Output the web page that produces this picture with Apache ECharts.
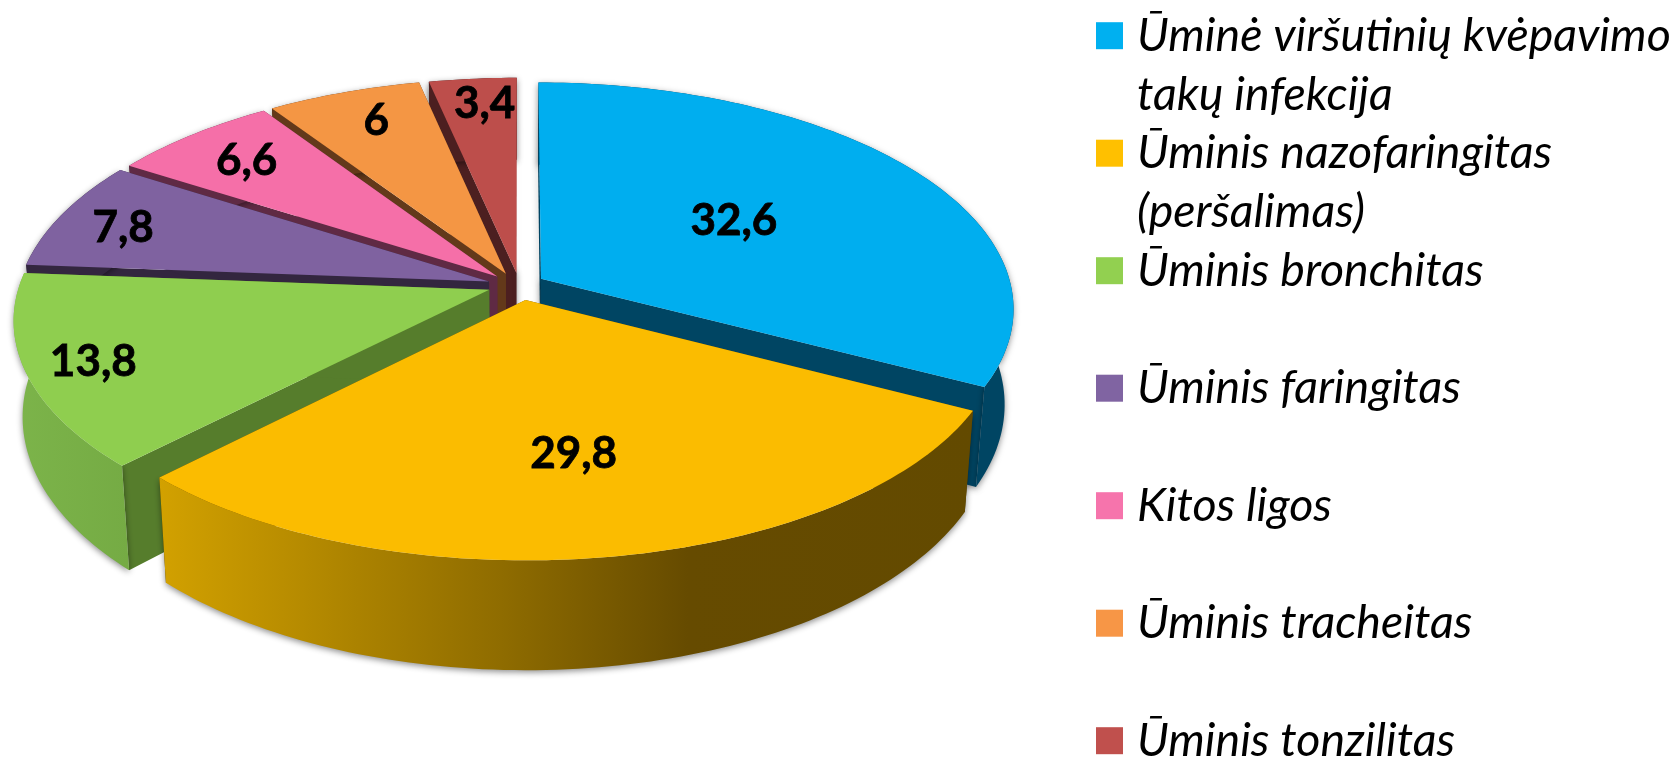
<!DOCTYPE html>
<html>
<head>
<meta charset="utf-8">
<style>
  html, body { margin: 0; padding: 0; background: #fff; }
  #chart { width: 1676px; height: 760px; }
</style>
<script src="https://cdn.jsdelivr.net/npm/echarts@6/dist/echarts.min.js"></script>
</head>
<body>
<div id="chart"></div>
<script>
const names = [
  "Ūminė viršutinių kvėpavimo\ntakų infekcija",
  "Ūminis nazofaringitas\n(peršalimas)",
  "Ūminis bronchitas",
  "Ūminis faringitas",
  "Kitos ligos",
  "Ūminis tracheitas",
  "Ūminis tonzilitas",
];
const values = [32.6, 29.8, 13.8, 7.8, 6.6, 6, 3.4];

const legendColors = ["#00B0F0", "#FFC000", "#92D050", "#8064A2", "#F674AC", "#F79646", "#C0504D"];
const topColors = ["#00AEEF", "#FBBC00", "#8FCE4F", "#7F62A0", "#F56FA8", "#F49644", "#BD4E4B"];
const wallColors = ["#004563", "#634A00", "#567D2C", "#33263F", "#5F2A44", "#63391A", "#4C1F20"];

// back to front
const drawRank = [5, 6, 4, 3, 2, 1, 0];
// label distance from the slice apex, as a fraction of the radius
const labelRadius = [0.5, 0.63, 0.86, 0.85, 0.8, 0.8, 0.85];
const labelShift = [[0, -2], [-3, 0], [0, 2], [-1, 4], [-2, -1], [3, -5], [6, -1]];
// small correction of the explosion, px
const sliceShift = [[2, 0], [5, 2], [-2, 0], [-2, 0], [0, 0], [0, 0], [3, 0]];

const CX = 516.3;
const CY = 285.4;
const R = 470;
const TILT = 0.475;
const PERSP = 0.129;
const EXPLODE = 0.0568;
const DEPTH = 94;
const FLOOR_SCALE_X = 0.982;
const FLOOR_SCALE_Y = 1.058;
const FONT = "Lato, Carlito, Calibri, sans-serif";

const total = values.reduce((a, b) => a + b, 0);
const starts = [];
values.reduce((acc, v, i) => {
  starts[i] = acc;
  return acc + (v / total) * Math.PI * 2;
}, 0);

// disc coordinates (u right, v towards the viewer) to screen
function project(u, v, floor) {
  const d = 1 / (1 - PERSP * v);
  return [
    CX + R * u * d * (floor ? FLOOR_SCALE_X : 1),
    CY + R * TILT * v * d * (floor ? FLOOR_SCALE_Y : 1) + (floor ? DEPTH : 0),
  ];
}

function outerWallFill(i) {
  if (i === 1) {
    return new echarts.graphic.LinearGradient(0, 0, 1, 0, [
      { offset: 0, color: "#D2A100" },
      { offset: 0.42, color: "#8F6C00" },
      { offset: 0.65, color: "#664B00" },
      { offset: 1, color: "#634A00" },
    ]);
  }
  if (i === 2) {
    return new echarts.graphic.LinearGradient(0, 0, 1, 0, [
      { offset: 0, color: "#7CB44A" },
      { offset: 1, color: "#75AB44" },
    ]);
  }
  return wallColors[i];
}

function renderSlice(params) {
  const i = params.dataIndex;
  const a0 = starts[i];
  const a1 = a0 + (values[i] / total) * Math.PI * 2;
  const mid = (a0 + a1) / 2;
  const ox = Math.sin(mid) * EXPLODE;
  const oy = -Math.cos(mid) * EXPLODE;
  const at = (a, r, floor) => {
    const p = project(ox + Math.sin(a) * r, oy - Math.cos(a) * r, floor);
    return [p[0] + sliceShift[i][0], p[1] + sliceShift[i][1]];
  };

  const steps = Math.max(4, Math.ceil((a1 - a0) / 0.02));
  const arcTop = [];
  const arcFloor = [];
  for (let k = 0; k <= steps; k++) {
    const a = a0 + ((a1 - a0) * k) / steps;
    arcTop.push(at(a, 1, false));
    arcFloor.push(at(a, 1, true));
  }

  const z = drawRank[i] * 10;
  const shadow = { shadowBlur: 6, shadowColor: "rgba(0,0,0,0.45)", shadowOffsetX: 0, shadowOffsetY: 2 };
  // only the two cuts facing the centre gap cast a visible shadow
  const cutStyle = i === 0 || i === 6 ? shadow : {};
  const cut = (a) => ({
    type: "polygon",
    shape: { points: [at(a, 0, false), at(a, 1, false), at(a, 1, true), at(a, 0, true)] },
    style: Object.assign({ fill: wallColors[i] }, cutStyle),
    z2: z,
  });

  const children = [cut(a0), cut(a1)];
  // outer rim
  children.push({
    type: "polygon",
    shape: { points: arcTop.concat(arcFloor.slice().reverse()) },
    style: Object.assign({ fill: outerWallFill(i) }, shadow),
    z2: z + 1,
  });
  // top face
  children.push({
    type: "polygon",
    shape: { points: [at(a0, 0, false)].concat(arcTop) },
    style: { fill: topColors[i] },
    z2: z + 2,
  });
  const lp = at(mid, labelRadius[i], false);
  children.push({
    type: "text",
    style: {
      x: lp[0] + labelShift[i][0],
      y: lp[1] + labelShift[i][1],
      text: String(values[i]).replace(".", ","),
      fill: "#000",
      stroke: "#000",
      lineWidth: 0.8,
      fontFamily: FONT,
      fontWeight: "bold",
      fontSize: 44,
      align: "center",
      verticalAlign: "middle",
    },
    z2: 200,
  });
  return { type: "group", children };
}

const legendGraphics = [];
names.forEach((name, i) => {
  const rowY = 35.7 + i * 117.5;
  legendGraphics.push({
    type: "rect",
    shape: { x: 1096, y: rowY - 13.5, width: 27, height: 27 },
    style: { fill: legendColors[i] },
  });
  legendGraphics.push({
    type: "text",
    x: 1137,
    y: rowY - 29.4,
    style: {
      text: name,
      fill: "#000",
      fontFamily: FONT,
      fontStyle: "italic",
      fontSize: 46.5,
      lineHeight: 58.8,
      align: "left",
      verticalAlign: "top",
    },
  });
});

const chart = echarts.init(document.getElementById("chart"), null, { renderer: "canvas" });
chart.setOption({
  backgroundColor: "#fff",
  animation: false,
  graphic: legendGraphics,
  series: [
    {
      type: "custom",
      coordinateSystem: "none",
      renderItem: renderSlice,
      data: values.map((v, i) => ({ name: names[i].replace("\n", " "), value: v })),
    },
  ],
});
</script>
</body>
</html>
